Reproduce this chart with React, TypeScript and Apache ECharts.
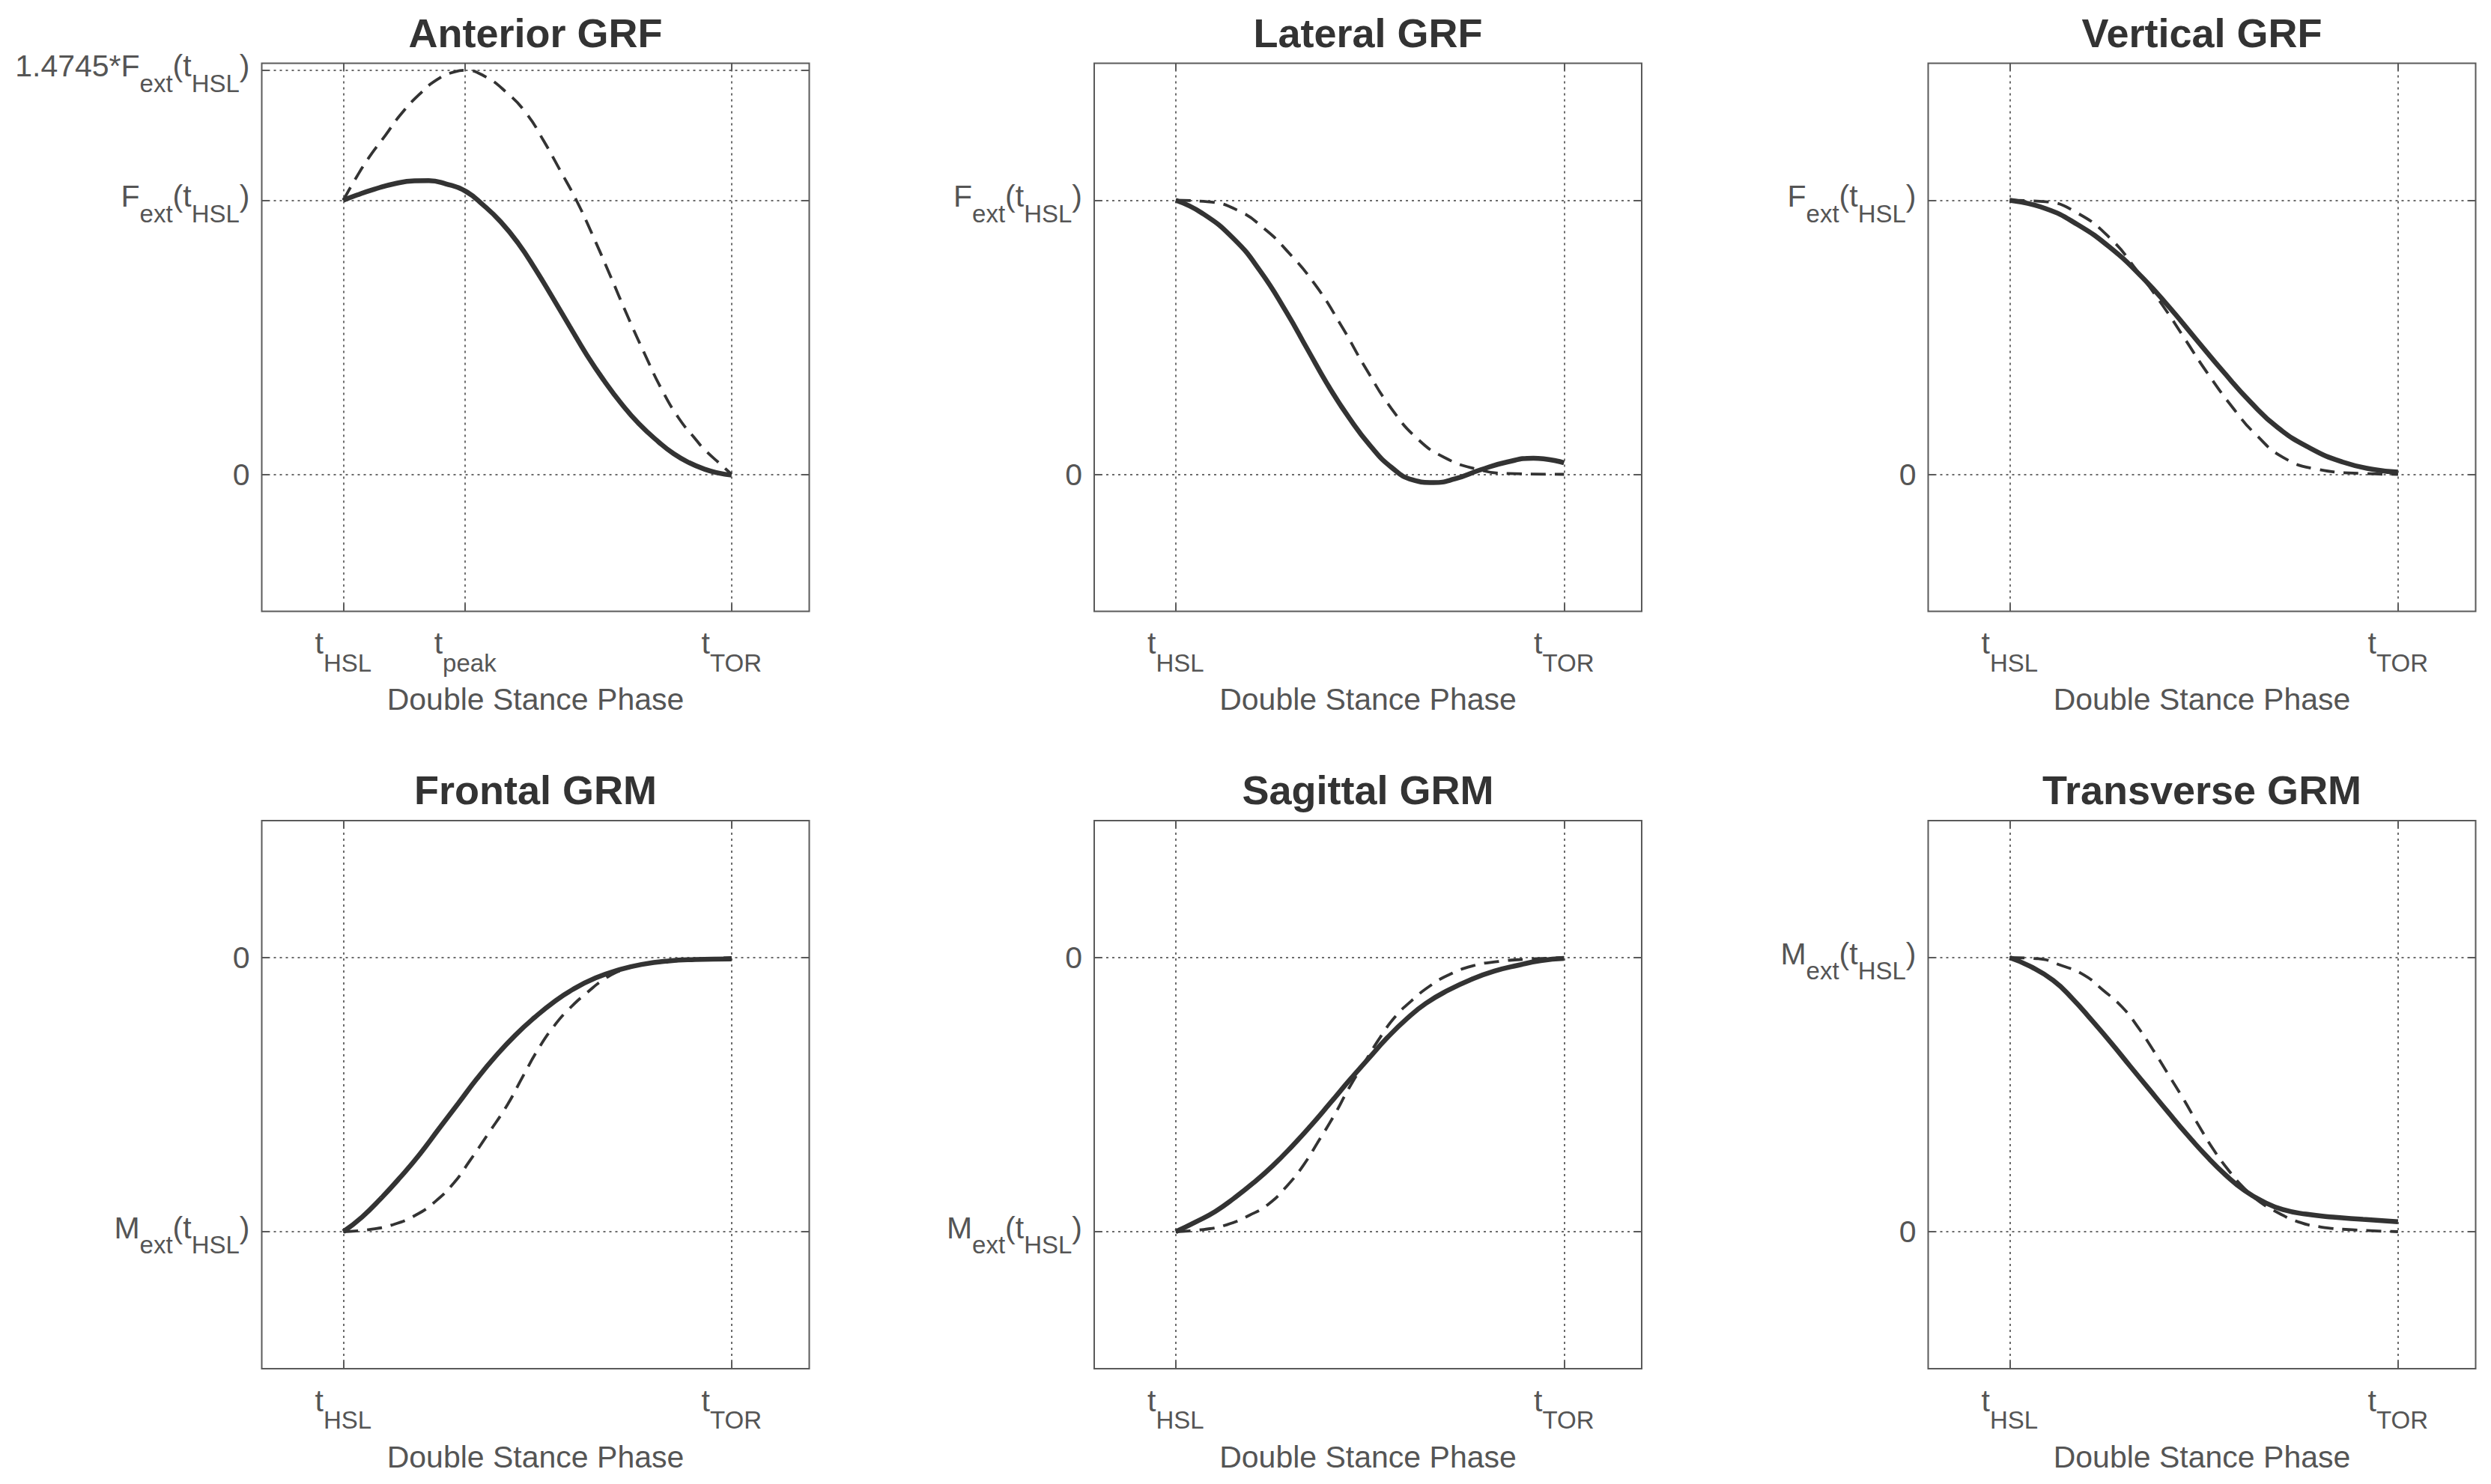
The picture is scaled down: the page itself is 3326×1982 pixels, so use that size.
import React, { useEffect, useRef } from 'react';
import * as echarts from 'echarts';

// ---------------- data ----------------
// x: normalised double-stance time (0 = t_HSL, 1 = t_TOR); y: normalised force / moment
const panelTitles = ['Anterior GRF', 'Lateral GRF', 'Vertical GRF', 'Frontal GRM', 'Sagittal GRM', 'Transverse GRM'];
const xAxisTitle = 'Double Stance Phase';

const tPeak = 0.314;
const xTickValues = [0, tPeak, 1];
const xTickSubscripts = ['HSL', 'peak', 'TOR'];
const anteriorXTicks = [0, tPeak, 1];
const standardXTicks = [0, 1];

const anteriorYTicks = [0, 1, 1.4745];
const anteriorYLabels = ['0', 'F', '1.4745*F'];
const forceYTicks = [0, 1];
const forceYLabels = ['0', 'F'];
const negMomentYTicks = [-1, 0];
const negMomentYLabels = ['M', '0'];
const posMomentYTicks = [0, 1];
const posMomentYLabels = ['0', 'M'];

const forceRange = [-0.5, 1.5];
const negMomentRange = [-1.5, 0.5];

const anteriorSolid = [
  [0, 1], [0.035, 1.019], [0.079, 1.04], [0.131, 1.06], [0.183, 1.071], [0.22, 1.072], [0.264, 1.06],
  [0.314, 1.034], [0.361, 0.982], [0.405, 0.922], [0.45, 0.844], [0.494, 0.75], [0.539, 0.645],
  [0.583, 0.54], [0.627, 0.436], [0.672, 0.341], [0.716, 0.258], [0.761, 0.185], [0.813, 0.117],
  [0.851, 0.075], [0.89, 0.043], [0.932, 0.018], [0.965, 0.005], [1, -0.003],
];
const anteriorDashed = [
  [0, 1], [0.035, 1.087], [0.068, 1.16], [0.109, 1.238], [0.146, 1.31], [0.194, 1.384], [0.242, 1.441],
  [0.287, 1.469], [0.314, 1.4745], [0.361, 1.455], [0.42, 1.394], [0.472, 1.316], [0.516, 1.217],
  [0.557, 1.113], [0.601, 0.998], [0.642, 0.873], [0.687, 0.727], [0.731, 0.581], [0.776, 0.44],
  [0.82, 0.31], [0.864, 0.205], [0.909, 0.125], [0.932, 0.088], [0.973, 0.035], [1, 0],
];
const lateralSolid = [
  [0, 1], [0.068, 0.953], [0.149, 0.86], [0.217, 0.743], [0.285, 0.592], [0.339, 0.457], [0.393, 0.323],
  [0.447, 0.205], [0.501, 0.104], [0.556, 0.025], [0.61, -0.02], [0.664, -0.03], [0.718, -0.017],
  [0.786, 0.017], [0.854, 0.045], [0.921, 0.059], [1, 0.042],
];
const lateralDashed = [
  [0, 1], [0.081, 0.995], [0.163, 0.961], [0.23, 0.894], [0.285, 0.818], [0.359, 0.692], [0.427, 0.541],
  [0.488, 0.39], [0.556, 0.239], [0.623, 0.129], [0.691, 0.062], [0.772, 0.02], [0.854, 0.003], [1, 0],
];
const verticalSolid = [
  [0, 1], [0.092, 0.97], [0.175, 0.911], [0.259, 0.827], [0.342, 0.718], [0.412, 0.608], [0.481, 0.491],
  [0.551, 0.373], [0.62, 0.264], [0.69, 0.171], [0.773, 0.096], [0.857, 0.045], [0.94, 0.017], [1, 0.008],
];
const verticalDashed = [
  [0, 1], [0.092, 0.995], [0.175, 0.953], [0.259, 0.861], [0.328, 0.743], [0.398, 0.608], [0.453, 0.49],
  [0.509, 0.37], [0.579, 0.235], [0.634, 0.145], [0.704, 0.062], [0.787, 0.02], [0.912, 0.003], [1, 0],
];
const frontalSolid = [
  [0, -1], [0.048, -0.947], [0.098, -0.877], [0.147, -0.801], [0.197, -0.717], [0.246, -0.625],
  [0.296, -0.532], [0.344, -0.442], [0.394, -0.357], [0.443, -0.283], [0.493, -0.218], [0.542, -0.162],
  [0.591, -0.116], [0.65, -0.074], [0.709, -0.045], [0.768, -0.025], [0.837, -0.012], [0.906, -0.007],
  [1, -0.005],
];
const frontalDashed = [
  [0, -1], [0.068, -0.992], [0.127, -0.975], [0.186, -0.94], [0.236, -0.891], [0.285, -0.822],
  [0.324, -0.745], [0.374, -0.641], [0.423, -0.536], [0.463, -0.432], [0.502, -0.334], [0.542, -0.251],
  [0.581, -0.188], [0.63, -0.125], [0.679, -0.072], [0.719, -0.045], [0.778, -0.024], [0.877, -0.01],
  [1, 0],
];
const sagittalSolid = [
  [0, -1], [0.052, -0.964], [0.102, -0.926], [0.151, -0.877], [0.2, -0.822], [0.25, -0.759],
  [0.299, -0.689], [0.348, -0.613], [0.397, -0.532], [0.447, -0.448], [0.496, -0.369], [0.545, -0.292],
  [0.595, -0.223], [0.644, -0.167], [0.703, -0.118], [0.762, -0.079], [0.821, -0.049], [0.881, -0.028],
  [0.94, -0.011], [1, -0.003],
];
const sagittalDashed = [
  [0, -1], [0.072, -0.992], [0.131, -0.975], [0.19, -0.94], [0.24, -0.898], [0.289, -0.829],
  [0.328, -0.759], [0.368, -0.669], [0.407, -0.578], [0.447, -0.474], [0.486, -0.383], [0.526, -0.292],
  [0.565, -0.216], [0.605, -0.16], [0.654, -0.104], [0.703, -0.063], [0.762, -0.031], [0.831, -0.014],
  [0.9, -0.006], [1, 0],
];
const transverseSolid = [
  [0, 1], [0.053, 0.968], [0.112, 0.917], [0.162, 0.85], [0.211, 0.772], [0.26, 0.691], [0.309, 0.606],
  [0.359, 0.52], [0.408, 0.436], [0.457, 0.354], [0.506, 0.277], [0.556, 0.207], [0.605, 0.15],
  [0.654, 0.109], [0.703, 0.081], [0.763, 0.064], [0.832, 0.053], [0.91, 0.045], [1, 0.036],
];
const transverseDashed = [
  [0, 1], [0.073, 0.996], [0.132, 0.972], [0.191, 0.937], [0.24, 0.882], [0.29, 0.819], [0.329, 0.749],
  [0.368, 0.666], [0.408, 0.575], [0.447, 0.485], [0.487, 0.387], [0.526, 0.297], [0.566, 0.22],
  [0.605, 0.157], [0.644, 0.109], [0.694, 0.067], [0.743, 0.036], [0.802, 0.017], [0.881, 0.007], [1, 0],
];

// ---------------- styling / layout ----------------
const FONT = '"Liberation Sans", Arial, Helvetica, sans-serif';
const LABEL_COLOR = '#555555';
const TITLE_COLOR = '#333333';
const CURVE_COLOR = '#333333';
const BOX_COLOR = '#5a5a5a';
const COL_LEFT = [349.5, 1461, 2574.5];
const ROW_TOP = [84.5, 1096];
const BOX_W = 731;
const BOX_H = 732;
const X_MIN = -0.21;
const X_MAX = 1.2;

const panels = [
  { xTicks: anteriorXTicks, yTicks: anteriorYTicks, yLabels: anteriorYLabels, range: forceRange, solid: anteriorSolid, dashed: anteriorDashed },
  { xTicks: standardXTicks, yTicks: forceYTicks, yLabels: forceYLabels, range: forceRange, solid: lateralSolid, dashed: lateralDashed },
  { xTicks: standardXTicks, yTicks: forceYTicks, yLabels: forceYLabels, range: forceRange, solid: verticalSolid, dashed: verticalDashed },
  { xTicks: standardXTicks, yTicks: negMomentYTicks, yLabels: negMomentYLabels, range: negMomentRange, solid: frontalSolid, dashed: frontalDashed },
  { xTicks: standardXTicks, yTicks: negMomentYTicks, yLabels: negMomentYLabels, range: negMomentRange, solid: sagittalSolid, dashed: sagittalDashed },
  { xTicks: standardXTicks, yTicks: posMomentYTicks, yLabels: posMomentYLabels, range: forceRange, solid: transverseSolid, dashed: transverseDashed },
];

const findIndex = (arr: number[], v: number) => arr.findIndex((a) => Math.abs(a - v) < 1e-6);

const yRich = {
  m: { fontSize: 41, fontFamily: FONT, color: LABEL_COLOR, verticalAlign: 'top', padding: [8, 0, 0, 0] },
  s: { fontSize: 33, fontFamily: FONT, color: LABEL_COLOR, verticalAlign: 'top', padding: [35, 0, 0, 0] },
  z: { fontSize: 41, fontFamily: FONT, color: LABEL_COLOR },
};
const xRich = {
  m: { fontSize: 41, fontFamily: FONT, color: LABEL_COLOR, verticalAlign: 'top' },
  s: { fontSize: 33, fontFamily: FONT, color: LABEL_COLOR, verticalAlign: 'top', padding: [30, 0, 0, 0] },
};

function buildOption() {
  const grid: any[] = [];
  const xAxis: any[] = [];
  const yAxis: any[] = [];
  const series: any[] = [];
  const title: any[] = [];
  const tickStyle = { color: BOX_COLOR, width: 2 };
  const splitStyle = { type: [3, 5], color: '#3c3c3c', width: 1.5 };

  panels.forEach((p, i) => {
    const col = i % 3;
    const row = Math.floor(i / 3);
    grid.push({
      left: COL_LEFT[col], top: ROW_TOP[row], width: BOX_W, height: BOX_H,
      show: true, borderColor: BOX_COLOR, borderWidth: 2, backgroundColor: 'transparent',
      containLabel: false, outerBoundsMode: 'none',
    });
    title.push({
      text: panelTitles[i],
      left: COL_LEFT[col] + BOX_W / 2,
      top: ROW_TOP[row] - 68,
      textAlign: 'center',
      padding: 0,
      textStyle: { fontSize: 54, fontWeight: 'bold', color: TITLE_COLOR, fontFamily: FONT },
    });
    xAxis.push({
      type: 'value', gridIndex: i, position: 'bottom', min: X_MIN, max: X_MAX,
      axisLine: { show: false, onZero: false },
      axisTick: { show: true, inside: true, length: 10, customValues: p.xTicks, lineStyle: tickStyle },
      axisLabel: {
        show: true, margin: 22, customValues: p.xTicks, rich: xRich,
        formatter: (v: number) => {
          const k = findIndex(xTickValues, v);
          return k < 0 ? '' : `{m|t}{s|${xTickSubscripts[k]}}`;
        },
      },
      splitLine: { show: true, lineStyle: splitStyle },
      name: xAxisTitle, nameLocation: 'middle', nameGap: 97,
      nameTextStyle: { fontSize: 41, fontFamily: FONT, color: LABEL_COLOR },
    });
    xAxis.push({
      type: 'value', gridIndex: i, position: 'top', min: X_MIN, max: X_MAX,
      axisLine: { show: false, onZero: false },
      axisTick: { show: true, inside: true, length: 10, customValues: p.xTicks, lineStyle: tickStyle },
      axisLabel: { show: false },
      splitLine: { show: false },
    });
    yAxis.push({
      type: 'value', gridIndex: i, position: 'left', min: p.range[0], max: p.range[1],
      axisLine: { show: false, onZero: false },
      axisTick: { show: true, inside: true, length: 10, customValues: p.yTicks, lineStyle: tickStyle },
      axisLabel: {
        show: true, margin: 16, customValues: p.yTicks, rich: yRich,
        formatter: (v: number) => {
          const k = findIndex(p.yTicks, v);
          if (k < 0) return '';
          const t = p.yLabels[k];
          if (t === '0') return '{z|0}';
          return `{m|${t}}{s|ext}{m|(t}{s|HSL}{m|)}`;
        },
      },
      splitLine: { show: true, lineStyle: splitStyle },
    });
    yAxis.push({
      type: 'value', gridIndex: i, position: 'right', min: p.range[0], max: p.range[1],
      axisLine: { show: false, onZero: false },
      axisTick: { show: true, inside: true, length: 10, customValues: p.yTicks, lineStyle: tickStyle },
      axisLabel: { show: false },
      splitLine: { show: false },
    });
    series.push({
      type: 'line', name: panelTitles[i] + ' reference', xAxisIndex: 2 * i, yAxisIndex: 2 * i,
      data: p.dashed, showSymbol: false, symbol: 'none', smooth: 0.5, silent: true,
      lineStyle: { color: CURVE_COLOR, width: 3.8, type: [20, 12] },
      z: 3,
    });
    series.push({
      type: 'line', name: panelTitles[i], xAxisIndex: 2 * i, yAxisIndex: 2 * i,
      data: p.solid, showSymbol: false, symbol: 'none', smooth: 0.5, silent: true,
      lineStyle: { color: CURVE_COLOR, width: 6.5, type: 'solid' },
      z: 4,
    });
  });

  return { animation: false, backgroundColor: '#ffffff', title, grid, xAxis, yAxis, series };
}

export default function App() {
  const ref = useRef<HTMLDivElement>(null);
  useEffect(() => {
    if (!ref.current) return;
    const chart = echarts.init(ref.current, null, { renderer: 'svg' });
    chart.setOption(buildOption() as any);
    return () => chart.dispose();
  }, []);
  return (
    <div
      ref={ref}
      style={{ position: 'absolute', left: 0, top: 0, width: 3326, height: 1982, background: '#ffffff' }}
    />
  );
}
